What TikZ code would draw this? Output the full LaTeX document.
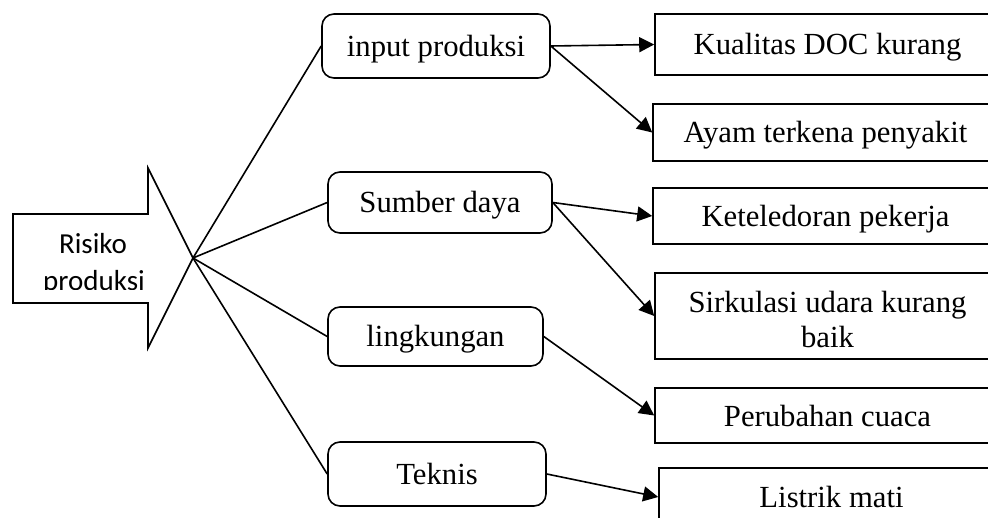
\documentclass[tikz,border=0pt]{standalone}
\usepackage{fontspec}
\setmainfont{Liberation Serif}
\newfontfamily\carl{Carlito}
\usetikzlibrary{arrows.meta}
\begin{document}
\begin{tikzpicture}[x=1pt,y=-1pt,
  lw/.style={line width=1.6pt},
  txt/.style={font=\fontsize{30.7pt}{35pt}\selectfont,text height=21pt,text depth=0pt},
  rbox/.style={draw,lw,txt,rounded corners=12pt,inner sep=0pt},
  sbox/.style={draw,lw,txt,inner sep=0pt,minimum width=345pt,align=center},
  conn/.style={lw},
  arr/.style={lw,-{Triangle[length=15pt,width=15pt]}}]
\useasboundingbox (0,0) rectangle (988,518);
\clip (0,0) rectangle (988,518);
% big arrow shape
\draw[lw,line join=miter] (13,214) -- (148,214) -- (148,168) -- (193,258) -- (148,348) -- (148,303) -- (13,303) -- cycle;
\coordinate (tip) at (193,258);
\node[font=\carl\fontsize{29pt}{36pt}\selectfont,anchor=base,inner sep=0pt] (risk1) at (93,254) {Risiko};
\begin{scope}
\clip (0,0) rectangle (988,290);
\node[font=\carl\fontsize{29pt}{36pt}\selectfont,anchor=base,inner sep=0pt] (risk2) at (94,290.5) {produksi};
\end{scope}
% middle rounded boxes
\node[rbox,minimum width=228pt,minimum height=64pt] (inp) at (436,46) {input produksi};
\node[rbox,minimum width=224pt,minimum height=61pt] (sdm) at (440,202.5) {Sumber daya};
\node[rbox,minimum width=215pt,minimum height=59pt] (lin) at (435.5,336.5) {lingkungan};
\node[rbox,minimum width=218pt,minimum height=64pt] (tek) at (437,474) {Teknis};
% right boxes
\node[sbox,minimum height=61pt] (k1) at (827.5,44.5) {Kualitas DOC kurang};
\node[sbox,minimum height=57pt] (k2) at (825.5,132.5) {Ayam terkena penyakit};
\node[sbox,minimum height=56pt] (k3) at (825.5,216) {Keteledoran pekerja};
\node[sbox,minimum height=86pt,text height=64pt] (k4) at (827.5,316) {Sirkulasi udara kurang\\baik};
\node[sbox,minimum height=55pt] (k5) at (827.5,415.5) {Perubahan cuaca};
\node[sbox,minimum height=58pt] (k6) at (831.5,497) {Listrik mati};
% connectors from tip
\draw[conn] (tip) -- (inp.west);
\draw[conn] (tip) -- (sdm.west);
\draw[conn] (tip) -- (lin.west);
\draw[conn] (tip) -- (tek.west);
% arrows
\draw[arr] (inp.east) -- (k1.west);
\draw[arr] (inp.east) -- (k2.west);
\draw[arr] (sdm.east) -- (k3.west);
\draw[arr] (sdm.east) -- (k4.west);
\draw[arr] (lin.east) -- (k5.west);
\draw[arr] (tek.east) -- (k6.west);
\end{tikzpicture}
\end{document}
